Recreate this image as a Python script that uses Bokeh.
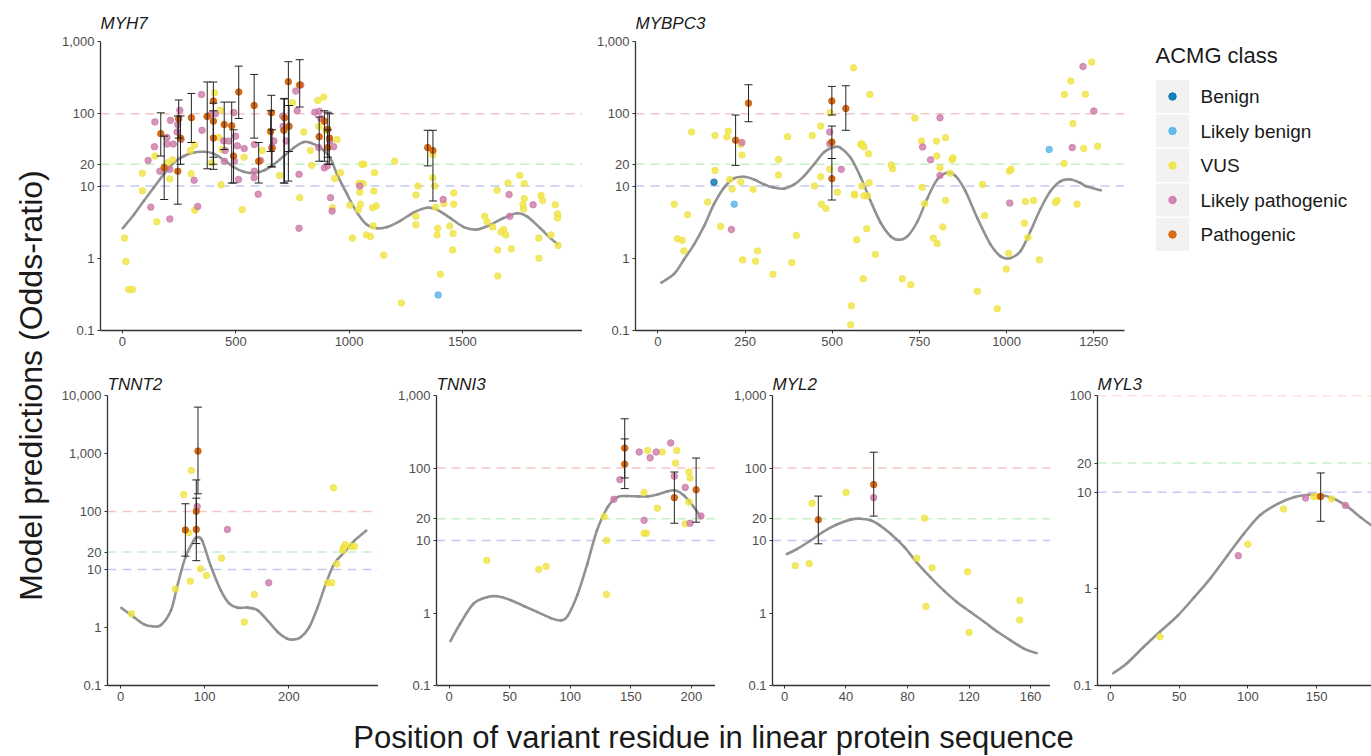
import math
from bokeh.plotting import figure
from bokeh.models import Range1d, FixedTicker, NumeralTickFormatter, Span, Whisker, TeeHead, ColumnDataSource
from bokeh.layouts import row, column
from bokeh.core.properties import value
from bokeh.embed import file_html
from bokeh.resources import INLINE

FONT = "Liberation Sans"
CLASSES = ["Benign", "Likely benign", "VUS", "Likely pathogenic", "Pathogenic"]
COLORS = ["#0072B2", "#56B4E9", "#F0E442", "#CC79A7", "#D55E00"]
Y_TITLE = "Model predictions (Odds-ratio)"
X_TITLE = "Position of variant residue in linear protein sequence"
THRESHOLDS = [100, 20, 10]
THRESHOLD_COLORS = ["#F7C4C4", "#C6F0C6", "#C8C8F6"]

# ---------------- MYH7 ----------------
MYH7_B = []
MYH7_LB = [(1393, 0.31)]
MYH7_VUS = [(9, 1.9), (15, 0.9), (28, 0.37), (44, 0.37), (88, 15), (88, 8.6), (151, 3.2), (143, 26), (200, 21),
            (221, 23), (209, 12.5), (303, 14.8), (319, 4.6), (300, 31), (318, 37), (406, 195), (432, 112), (425, 47),
            (440, 32), (394, 21), (435, 10.4), (528, 4.7), (537, 25), (616, 31), (606, 22), (693, 14), (750, 142),
            (800, 56), (829, 31), (835, 19.3), (862, 153), (888, 170), (866, 67), (897, 59), (947, 44), (937, 12.7),
            (782, 6.9), (926, 5), (962, 15.3), (1003, 5.4), (1015, 1.9), (1043, 10.9), (1047, 8.2), (1057, 20),
            (1065, 20), (1041, 4.7), (1050, 5.6), (1062, 10.8), (1076, 2.1), (1094, 2.0), (1106, 2.8), (1109, 8.5),
            (1112, 15.3), (1104, 5.0), (1119, 5.3), (1153, 1.1), (1201, 22), (1231, 0.24), (1295, 7.5), (1304, 10),
            (1295, 3.8), (1295, 2.9), (1370, 27), (1370, 13), (1378, 10), (1382, 5.1), (1391, 2.6), (1388, 2.1),
            (1403, 0.6), (1418, 5.7), (1444, 2.8), (1459, 2.2), (1457, 1.3), (1462, 8), (1462, 5.6), (1598, 3.8),
            (1609, 3.2), (1634, 2.7), (1653, 8.7), (1656, 1.3), (1656, 0.57), (1670, 2.3), (1682, 2.5), (1692, 2.1),
            (1701, 11), (1716, 1.35), (1753, 14), (1773, 10.8), (1773, 6.7), (1767, 5.5), (1770, 4.8), (1837, 1.9),
            (1838, 1.0), (1847, 7.4), (1854, 6.3), (1891, 2.1), (1910, 5.5), (1920, 4.1), (1920, 3.6), (1922, 1.5)]
MYH7_LP = [(113, 22.6), (125, 5.1), (143, 77), (141, 35), (165, 16), (196, 47), (197, 38), (212, 81), (209, 17),
           (224, 38), (209, 3.5), (241, 56), (244, 71), (253, 112), (259, 44), (316, 12), (332, 5.2), (349, 185),
           (351, 59), (374, 92), (391, 98), (410, 100), (447, 42), (453, 31), (450, 22), (469, 42), (491, 104),
           (494, 22), (499, 49), (512, 12.3), (507, 36), (537, 33), (582, 37.6), (582, 16), (581, 13), (599, 7.7),
           (609, 22.6), (660, 35), (668, 42), (707, 93), (709, 67), (722, 42), (765, 206), (787, 250), (771, 110),
           (779, 14.5), (779, 2.6), (849, 105), (868, 108), (875, 86), (866, 34), (891, 17.8), (904, 19), (915, 42),
           (918, 6.9), (925, 4.5), (932, 35), (1047, 10), (1415, 6.5), (1706, 7.6), (1709, 3.8), (1812, 5.5)]
# (position, odds ratio, lower, upper)
MYH7_P = [(169, 53, 26, 103), (184, 18, 6.5, 49), (248, 85, 46, 155), (256, 46, 20, 93), (244, 16, 5.6, 93),
          (304, 88, 40, 191), (374, 92, 17.3, 275), (401, 150, 17, 275), (401, 79, 25, 140), (401, 46, 20, 110),
          (449, 71, 32, 145), (482, 68, 11, 145), (490, 26, 11, 60), (513, 200, 86, 456), (581, 130, 46, 350),
          (601, 22, 11, 40), (657, 103, 18.4, 180), (654, 57, 30, 110), (660, 33, 18.4, 60), (715, 88, 11, 163),
          (712, 59, 11, 160), (732, 278, 11.7, 525), (735, 67, 30, 130), (782, 250, 124, 560), (868, 48, 22, 90),
          (891, 79, 22, 110), (906, 61, 25, 105), (913, 46, 20, 100), (906, 34, 20, 60), (1347, 34, 19, 59),
          (1370, 31, 6.2, 59)]
MYH7_CURVE_X = [1, 50, 94, 138, 182, 226, 271, 315, 359, 403, 447, 491, 535, 579, 624, 668, 712, 756, 800, 829, 874,
                918, 947, 991, 1035, 1079, 1123, 1168, 1226, 1285, 1344, 1388, 1447, 1506, 1565, 1623, 1682, 1741,
                1785, 1844, 1888, 1922]
MYH7_CURVE_Y = [2.6, 4.0, 6.2, 9.5, 14.5, 21, 26, 29, 29.8, 28, 23, 18.3, 15.7, 15.1, 16.4, 19.9, 26, 33.9, 40.6,
                39.8, 34, 24, 14.5, 7.7, 4.3, 2.9, 2.6, 2.7, 3.3, 4.3, 5.0, 4.7, 3.6, 2.7, 2.5, 2.9, 3.6, 4.2, 3.8,
                2.6, 1.9, 1.56]

# ---------------- MYBPC3 ----------------
MYBPC3_B = [(161, 11.3)]
MYBPC3_LB = [(219, 5.6), (1122, 32)]
MYBPC3_VUS = [(47, 5.6), (56, 1.86), (70, 1.77), (75, 1.26), (85, 4.0), (97, 56), (143, 6.0), (164, 50), (164, 16.4),
              (180, 2.76), (198, 48), (202, 57.5), (206, 12.3), (213, 9.1), (238, 37.6), (241, 26.8), (238, 11.4),
              (243, 0.95), (273, 9), (280, 0.91), (286, 1.26), (330, 0.6), (346, 23.3), (346, 14.2), (372, 48),
              (384, 0.87), (397, 2.07), (443, 50), (449, 10), (467, 67.5), (467, 13.4), (469, 5.6), (482, 4.9),
              (493, 17), (494, 103), (515, 8.2), (561, 433), (582, 37.6), (570, 1.8), (564, 7.7), (555, 0.22),
              (553, 0.12), (608, 185), (585, 38.5), (591, 34.7), (604, 27.9), (585, 10), (564, 7.5), (591, 7.3),
              (601, 7.3), (606, 11.1), (599, 2.56), (624, 1.13), (589, 0.52), (669, 19.5), (673, 17.3), (701, 0.52),
              (725, 0.43), (737, 87), (756, 41.8), (758, 9.6), (765, 5.7), (790, 1.9), (801, 1.6), (799, 41.8),
              (800, 26), (809, 17.9), (825, 46.5), (825, 6.3), (817, 2.7), (838, 15), (844, 23.3), (846, 24.5),
              (916, 0.35), (931, 10.5), (937, 3.9), (973, 0.2), (1008, 16.1), (1013, 17), (1006, 1.17), (999, 0.71),
              (1054, 6.1), (1077, 6.3), (1051, 3.05), (1061, 1.94), (1094, 0.95), (1140, 5.9), (1145, 6.3),
              (1166, 185), (1184, 283), (1165, 20.5), (1190, 73), (1202, 5.6), (1221, 33), (1226, 186), (1244, 518),
              (1261, 35.5)]
MYBPC3_LP = [(211, 2.5), (241, 40), (493, 56), (493, 38.5), (526, 17), (759, 34.7), (782, 23), (809, 88), (809, 14),
             (1009, 5.8), (1188, 34), (1219, 450), (1250, 109)]
MYBPC3_P = [(223, 43, 19.3, 96), (260, 140, 77.5, 252), (499, 150, 96, 239), (499, 40.5, 24, 67.5),
            (499, 12.6, 6.4, 24), (539, 118, 59, 244)]
MYBPC3_CURVE_X = [10, 47, 75, 104, 133, 161, 190, 219, 247, 276, 305, 333, 362, 391, 419, 448, 477, 505, 524, 553,
                  582, 610, 639, 668, 690, 715, 744, 773, 801, 830, 854, 882, 916, 954, 983, 1010, 1040, 1069, 1097,
                  1126, 1155, 1183, 1212, 1226, 1270]
MYBPC3_CURVE_Y = [0.46, 0.61, 0.96, 1.56, 2.8, 5.6, 9.5, 12.8, 13.4, 12.3, 10.5, 9.5, 9.2, 10.5, 13.7, 20, 29.5,
                  34.6, 33.8, 24.6, 13.1, 6.2, 3.1, 2.0, 1.8, 2.0, 3.2, 6.8, 12.3, 15.3, 13.7, 8.5, 3.6, 1.55, 1.06,
                  1.0, 1.26, 2.4, 4.8, 8.5, 11.7, 12.3, 11, 10, 8.7]

# ---------------- TNNT2 ----------------
TNNT2_B = []
TNNT2_LB = []
TNNT2_VUS = [(13, 1.72), (65, 4.6), (75, 196), (81, 43), (84, 509), (83, 6.3), (95, 10.3), (102, 7.9), (120, 15.7),
             (147, 1.24), (159, 3.7), (246, 5.9), (251, 5.9), (253, 256), (257, 12.5), (265, 24), (267, 27),
             (274, 25), (278, 25), (264, 21.5)]
TNNT2_LP = [(91, 122), (127, 49), (176, 5.9)]
TNNT2_P = [(77, 48, 17, 136), (92, 1100, 202, 6300), (90, 101, 28, 350), (90, 49, 14.2, 170)]
TNNT2_CURVE_X = [1, 16, 28, 38, 48, 60, 67, 77, 87, 91, 97, 107, 119, 129, 139, 151, 163, 175, 187, 198, 206, 214,
                 224, 234, 244, 254, 266, 278, 292]
TNNT2_CURVE_Y = [2.18, 1.5, 1.13, 1.05, 1.1, 1.98, 4.9, 16.2, 31.6, 36, 31.6, 11.7, 4.4, 2.6, 2.2, 2.2, 1.98, 1.3,
                 0.83, 0.64, 0.62, 0.68, 1.0, 2.2, 5.7, 12.6, 19.9, 31.6, 47]

# ---------------- TNNI3 ----------------
TNNI3_B = []
TNNI3_LB = []
TNNI3_VUS = [(31, 5.3), (74, 4.0), (80, 4.4), (128, 21.4), (130, 10), (130, 1.8), (161, 12.6), (163, 12.6),
             (161, 46), (164, 174), (172, 27.9), (176, 166), (188, 174), (187, 117), (198, 88), (199, 73),
             (198, 34), (195, 17)]
TNNI3_LP = [(141, 69), (136, 37), (157, 166), (166, 138), (171, 166), (183, 222), (186, 77), (195, 54), (161, 19),
            (199, 17.3), (208, 21.7)]
TNNI3_P = [(145, 188, 52, 477), (145, 113, 73, 252), (186, 39, 17.3, 88), (204, 50, 17.9, 137)]
TNNI3_CURVE_X = [1, 9, 20, 31, 40, 51, 62, 73, 84, 92, 98, 106, 114, 122, 131, 139, 147, 156, 164, 172, 180, 187,
                 194, 202, 208]
TNNI3_CURVE_Y = [0.41, 0.71, 1.34, 1.65, 1.7, 1.5, 1.24, 1.03, 0.85, 0.79, 0.92, 1.8, 4.7, 13.7, 29, 39.7, 41,
                 40.6, 40.6, 43, 47.5, 49, 41.8, 29, 21]

# ---------------- MYL2 ----------------
MYL2_B = []
MYL2_LB = []
MYL2_VUS = [(7, 4.5), (16, 4.8), (18, 32.7), (40, 46), (86, 5.7), (91, 20.3), (92, 1.23), (96, 4.2), (119, 3.7),
            (120, 0.54), (153, 1.49), (153, 0.8)]
MYL2_LP = [(58, 39)]
MYL2_P = [(22, 19.3, 9, 41), (58, 59, 21.7, 165)]
MYL2_CURVE_X = [1.5, 8, 17, 25, 34, 43, 49, 56, 62, 69, 78, 86, 95, 104, 112, 121, 130, 138, 147, 156, 164]
MYL2_CURVE_Y = [6.5, 7.6, 10, 13.1, 16.6, 19.4, 20, 19, 16.2, 12.4, 8.1, 5, 3.1, 2.0, 1.42, 1.03, 0.75, 0.56, 0.42,
                0.32, 0.28]

# ---------------- MYL3 ----------------
MYL3_B = []
MYL3_LB = []
MYL3_VUS = [(36, 0.32), (100, 2.9), (126, 6.7), (148, 9.0), (151, 9.0), (161, 8.5)]
MYL3_LP = [(93, 2.2), (142, 8.7), (171, 7.3)]
MYL3_P = [(153, 9.0, 5.0, 15.8)]
MYL3_CURVE_X = [2, 12, 24, 36, 49, 61, 73, 85, 97, 109, 122, 134, 144, 153, 163, 173, 182, 195]
MYL3_CURVE_Y = [0.134, 0.17, 0.25, 0.36, 0.53, 0.82, 1.3, 2.2, 3.7, 5.8, 7.6, 8.9, 9.4, 9.4, 8.5, 7.0, 5.5, 4.0]

Y_TICKS_3 = [0.1, 1, 10, 20, 100, 1000]
Y_TICKS_4 = [0.1, 1, 10, 20, 100, 1000, 10000]
Y_TICKS_2 = [0.1, 1, 10, 20, 100]


def smooth_curve(p, xs, ys, **kw):
    # Catmull-Rom style cubic Bezier through the read points, in log space (y axis is log)
    ly = [math.log10(v) for v in ys]
    n = len(xs)
    d = dict(x0=[], y0=[], x1=[], y1=[], cx0=[], cy0=[], cx1=[], cy1=[])
    for i in range(n - 1):
        i0 = max(i - 1, 0)
        i3 = min(i + 2, n - 1)
        d["x0"].append(xs[i]); d["y0"].append(ys[i])
        d["x1"].append(xs[i + 1]); d["y1"].append(ys[i + 1])
        d["cx0"].append(xs[i] + (xs[i + 1] - xs[i0]) / 6.0)
        d["cy0"].append(10 ** (ly[i] + (ly[i + 1] - ly[i0]) / 6.0))
        d["cx1"].append(xs[i + 1] - (xs[i3] - xs[i]) / 6.0)
        d["cy1"].append(10 ** (ly[i + 1] - (ly[i3] - ly[i]) / 6.0))
    p.bezier(source=ColumnDataSource(d), x0="x0", y0="y0", x1="x1", y1="y1",
             cx0="cx0", cy0="cy0", cx1="cx1", cy1="cy1", **kw)


def panel(name, xr, yr, xticks, yticks, fw, fh, mbl, mbr, mbt, mbb, tstand,
          B, LB, VUS, LP, P, cx, cy):
    p = figure(x_range=Range1d(*xr), y_range=Range1d(*yr), y_axis_type="log",
               frame_width=fw, frame_height=fh, min_border_left=mbl, min_border_right=mbr,
               min_border_top=mbt, min_border_bottom=mbb, output_backend="svg", toolbar_location=None)
    p.title.text = name
    p.title.text_font = FONT
    p.title.text_font_style = "italic"
    p.title.text_font_size = "17px"
    p.title.text_color = "#1a1a1a"
    p.title.standoff = tstand
    p.title.align = "left"
    p.xgrid.visible = False
    p.ygrid.visible = False
    p.outline_line_color = None
    p.background_fill_color = "white"
    p.border_fill_color = "white"
    p.xaxis.ticker = FixedTicker(ticks=xticks, minor_ticks=[])
    p.yaxis.ticker = FixedTicker(ticks=yticks, minor_ticks=[])
    p.yaxis.formatter = NumeralTickFormatter(format="0,0.[0]")
    for ax in (p.xaxis, p.yaxis):
        ax.axis_line_color = "#333333"
        ax.axis_line_width = 1.3
        ax.major_tick_line_color = "#333333"
        ax.major_tick_out = 3
        ax.major_tick_in = 0
        ax.minor_tick_line_color = None
        ax.major_label_text_font = FONT
        ax.major_label_text_font_size = "13px"
        ax.major_label_text_color = "#4D4D4D"
        ax.major_label_standoff = 3
    for loc, col in zip(THRESHOLDS, THRESHOLD_COLORS):
        s = Span(location=loc, dimension="width", line_color=col, line_dash="9 6", line_width=1.5)
        s.level = "underlay"
        p.add_layout(s)
    smooth_curve(p, cx, cy, line_color="#8C8C8C", line_width=2.6, line_alpha=0.95, line_cap="round")
    for pts, ci in ((VUS, 2), (B, 0), (LB, 1), (LP, 3)):
        if pts:
            p.scatter([a for a, b in pts], [b for a, b in pts], size=6.5,
                      fill_color=COLORS[ci], line_color=COLORS[ci], fill_alpha=0.8, line_alpha=0.8)
    if P:
        src = ColumnDataSource(dict(x=[r[0] for r in P], y=[r[1] for r in P],
                                    lo=[r[2] for r in P], hi=[r[3] for r in P]))
        p.scatter("x", "y", source=src, size=6.5, fill_color=COLORS[4], line_color=COLORS[4],
                  fill_alpha=0.9, line_alpha=0.9)
        w = Whisker(base="x", lower="lo", upper="hi", source=src, line_color="#222222", line_width=1,
                    upper_head=TeeHead(size=8, line_color="#222222", line_width=1),
                    lower_head=TeeHead(size=8, line_color="#222222", line_width=1))
        w.level = "annotation"
        p.add_layout(w)
    return p


p1 = panel("MYH7", (-97, 2030), (0.1, 1000), [0, 500, 1000, 1500], Y_TICKS_3, 482, 289, 45, 0, 41, 25, 17,
           MYH7_B, MYH7_LB, MYH7_VUS, MYH7_LP, MYH7_P, MYH7_CURVE_X, MYH7_CURVE_Y)
p2 = panel("MYBPC3", (-64, 1338), (0.1, 1000), [0, 250, 500, 750, 1000, 1250], Y_TICKS_3, 489, 289, 53, 16, 41, 25,
           17, MYBPC3_B, MYBPC3_LB, MYBPC3_VUS, MYBPC3_LP, MYBPC3_P, MYBPC3_CURVE_X, MYBPC3_CURVE_Y)
p3 = panel("TNNT2", (-15.5, 306.5), (0.1, 10000), [0, 100, 200], Y_TICKS_4, 271, 290, 52, 0, 40, 22, 3,
           TNNT2_B, TNNT2_LB, TNNT2_VUS, TNNT2_LP, TNNT2_P, TNNT2_CURVE_X, TNNT2_CURVE_Y)
p4 = panel("TNNI3", (-10.5, 220), (0.1, 1000), [0, 50, 100, 150, 200], Y_TICKS_3, 279, 290, 58, 0, 40, 22, 3,
           TNNI3_B, TNNI3_LB, TNNI3_VUS, TNNI3_LP, TNNI3_P, TNNI3_CURVE_X, TNNI3_CURVE_Y)
p5 = panel("MYL2", (-7.8, 173), (0.1, 1000), [0, 40, 80, 120, 160], Y_TICKS_3, 278, 290, 57, 0, 40, 22, 3,
           MYL2_B, MYL2_LB, MYL2_VUS, MYL2_LP, MYL2_P, MYL2_CURVE_X, MYL2_CURVE_Y)
p6 = panel("MYL3", (-9.5, 190), (0.1, 100), [0, 50, 100, 150], Y_TICKS_2, 274, 290, 47, 0, 40, 22, 3,
           MYL3_B, MYL3_LB, MYL3_VUS, MYL3_LP, MYL3_P, MYL3_CURVE_X, MYL3_CURVE_Y)


def blank(w, h, xr, yr, **kw):
    f = figure(width=w, height=h, x_range=Range1d(*xr), y_range=Range1d(*yr),
               x_axis_location=None, y_axis_location=None, output_backend="svg", toolbar_location=None, **kw)
    f.grid.visible = False
    f.outline_line_color = None
    return f


# legend: frame aligned with the top-row panels (screen y 41..330); y range flipped = screen pixels
leg = figure(frame_width=231, frame_height=289, min_border_left=0, min_border_right=0, min_border_top=41,
             min_border_bottom=25, x_range=Range1d(0, 231), y_range=Range1d(330, 41),
             x_axis_location=None, y_axis_location=None, output_backend="svg", toolbar_location=None)
leg.grid.visible = False
leg.outline_line_color = None
leg.text(x=[15], y=[55], text=["ACMG class"], text_font=value(FONT), text_font_size="22px",
         text_baseline="middle", text_align="left", text_color="#1a1a1a")
ky = [96 + 34.5 * i for i in range(len(CLASSES))]
leg.rect(x=[32] * len(CLASSES), y=ky, width=33, height=33, fill_color="#F2F2F2", line_color=None)
leg.scatter(x=[32] * len(CLASSES), y=ky, size=7.5, fill_color=COLORS, line_color=COLORS, fill_alpha=0.9,
            line_alpha=0.9)
leg.text(x=[60] * len(CLASSES), y=ky, text=CLASSES, text_font=value(FONT), text_font_size="19px",
         text_baseline="middle", text_align="left", text_color="#1a1a1a")

yt = blank(55, 756, (0, 55), (0, 756), min_border=0)
yt.text(x=[30], y=[756 - 385], text=[Y_TITLE], angle=math.pi / 2, text_font=value(FONT), text_font_size="32px",
        text_baseline="middle", text_align="center", text_color="#1a1a1a")

# x title strip: starts at y = 355 + 40 + 290 + 22 = 707
xt = blank(1316, 49, (0, 1316), (0, 49), min_border=0)
xt.text(x=[713 - 55], y=[756 - 737], text=[X_TITLE], text_font=value(FONT), text_font_size="31px",
        text_baseline="middle", text_align="center", text_color="#1a1a1a")

layout = row(yt, column(row(p1, p2, leg), row(p3, p4, p5, p6), xt))

open("out.html", "w").write(file_html(layout, INLINE))
